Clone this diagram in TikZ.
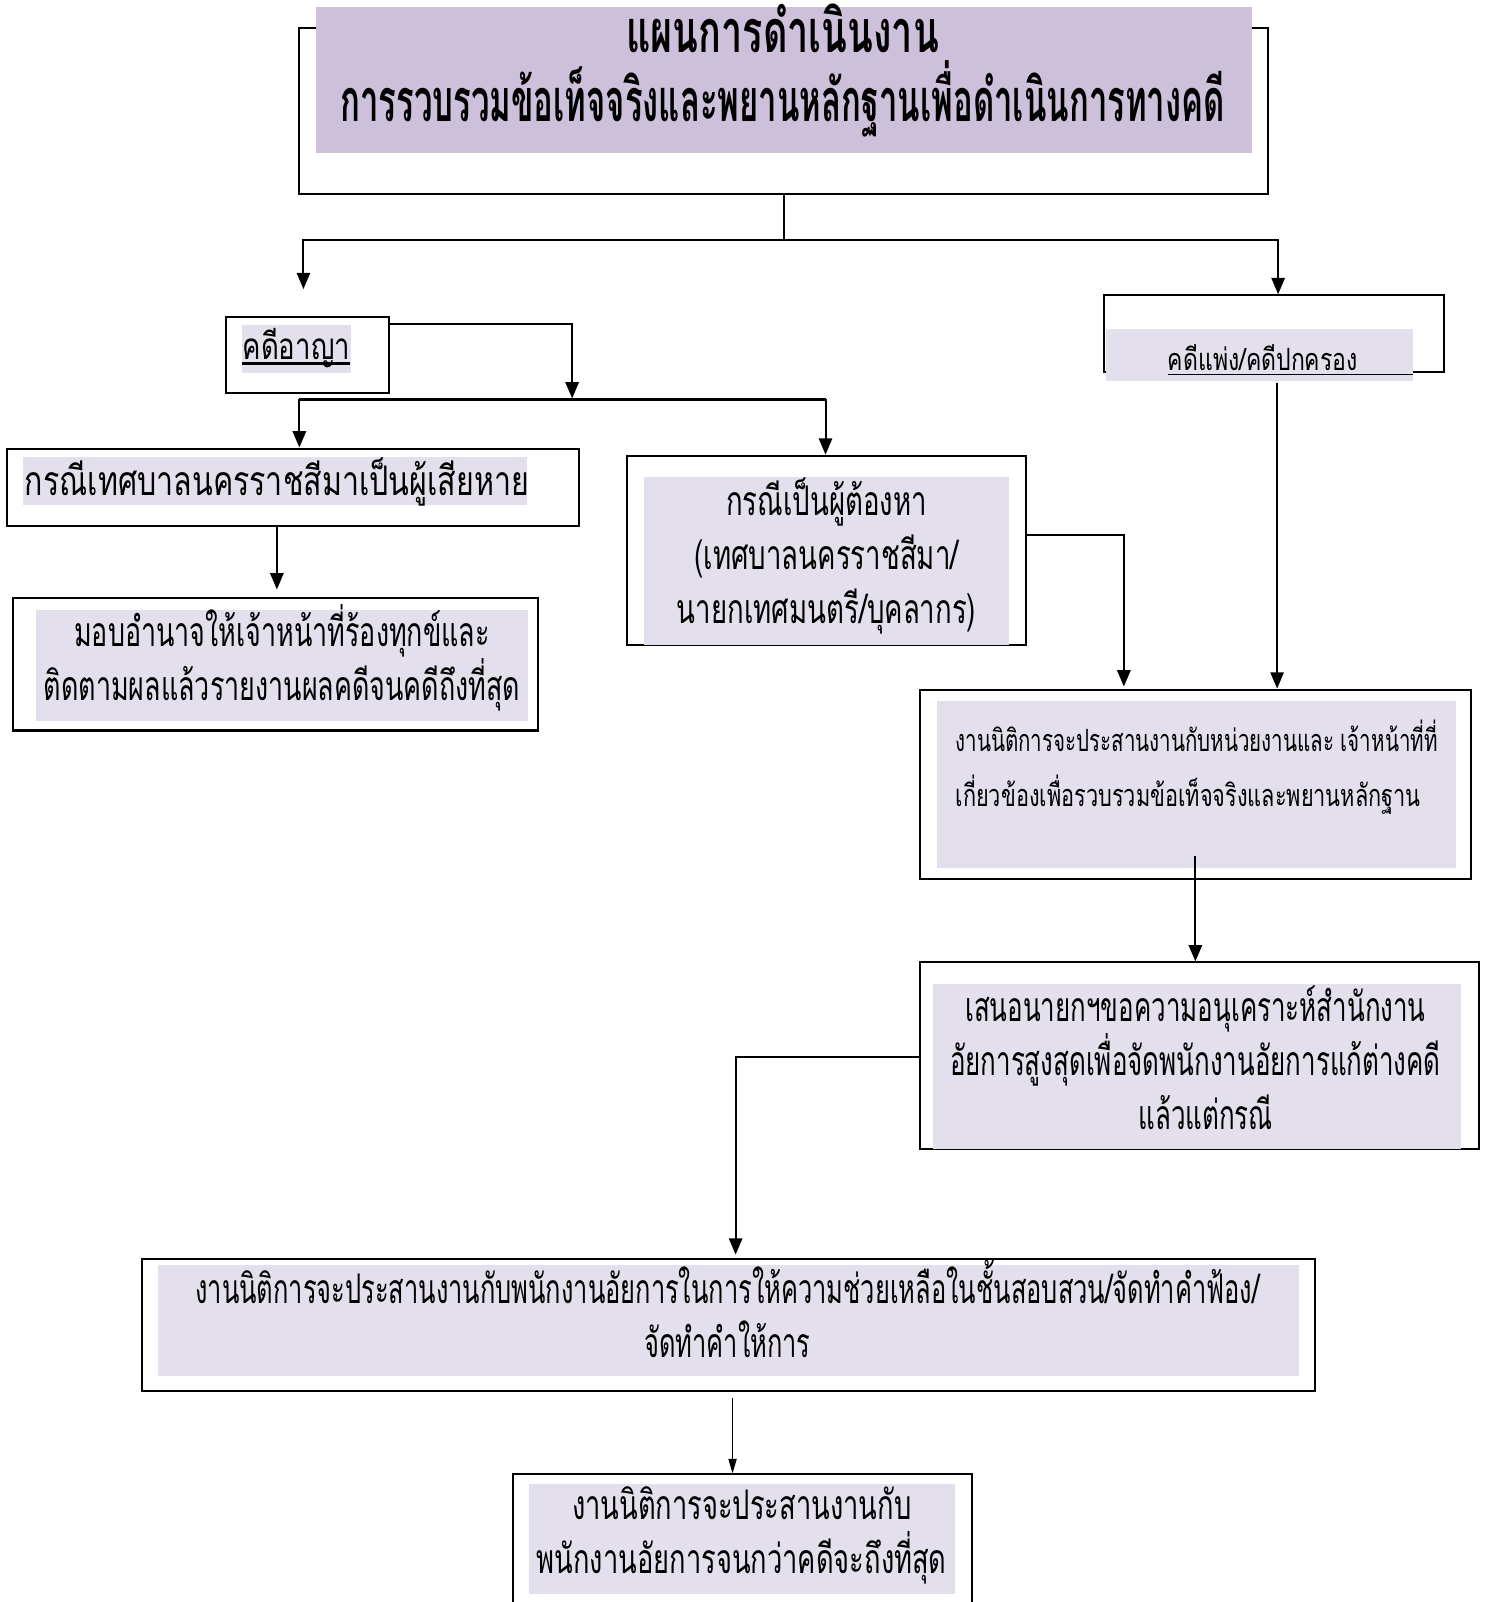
\documentclass[tikz,border=0pt]{standalone}
\usepackage{fontspec}
\usepackage{graphicx}
\usetikzlibrary{arrows.meta,calc}
\newfontfamily\thai[Script=Thai,FakeStretch=0.75]{Loma}
\newcommand{\hsq}[2]{\scalebox{#1}[1]{#2}}
\definecolor{titlefill}{RGB}{204,192,218}
\definecolor{boxfill}{RGB}{228,223,236}
\tikzset{
  x=0.5pt,y=-0.5pt,
  outerbox/.style={draw=black,line width=1pt,inner sep=0pt,fill=white},
  fillbox/.style={fill=boxfill,inner sep=0pt},
  txt/.style={inner sep=0pt,font=\thai\fontsize{20}{26.5}\selectfont,align=center},
  smalltxt/.style={inner sep=0pt,font=\thai\fontsize{15}{26.5}\selectfont,align=left},
  conn/.style={line width=1pt},
  arr/.style={line width=1pt,-{Triangle[width=6.5pt,length=8pt]}},
  thinarr/.style={line width=0.5pt,-{Triangle[width=4pt,length=7pt]}},
}
\begin{document}
\begin{tikzpicture}
\path[use as bounding box,clip] (0,0) rectangle (1458,1568);
% title
\node[outerbox,minimum width=474pt,minimum height=81.5pt] (title) at (767,108.5) {};
\node[fillbox,fill=titlefill,minimum width=458pt,minimum height=71.5pt] (titlef) at (767,78.5) {};
\node[txt,font=\thai\bfseries\fontsize{29}{33.5}\selectfont] (titlet) at (766,69) {\hsq{0.85}{แผนการดำเนินงาน}\\\hsq{0.74}{การรวบรวมข้อเท็จจริงและพยานหลักฐานเพื่อดำเนินการทางคดี}};
% criminal
\node[outerbox,minimum width=80pt,minimum height=37.5pt] (crim) at (301,347.5) {};
\node[fillbox,minimum width=53.5pt,minimum height=23.5pt] (crimf) at (290.5,341.5) {};
\node[txt,font=\thai\fontsize{18}{22}\selectfont] (crimt) at (290,341) {คดีอาญา};
\draw[line width=1.5pt] ([yshift=-2pt]crimt.base west) -- ([yshift=-2pt]crimt.base east);
% civil
\node[outerbox,minimum width=166pt,minimum height=37.5pt] (civil) at (1247,326.5) {};
\node[fillbox,minimum width=150pt,minimum height=25.5pt] (civilf) at (1233,347.5) {};
\node[txt,font=\thai\fontsize{15}{20}\selectfont] (civilt) at (1236,350) {คดีแพ่ง/คดีปกครอง};
\draw[line width=0.6pt] ([yshift=-2pt]civilt.base west) -- ([yshift=-2pt]civilt.base west -| civilf.east);
% victim
\node[outerbox,minimum width=280pt,minimum height=38pt] (vict) at (287,477) {};
\node[fillbox,minimum width=246.5pt,minimum height=23.5pt] (victf) at (269.5,470.5) {};
\node[txt] (victt) at (271,472) {\hsq{0.99}{กรณีเทศบาลนครราชสีมาเป็นผู้เสียหาย}};
% power of attorney
\node[outerbox,minimum width=257pt,minimum height=65pt] (poa) at (270,650) {};
\node[fillbox,minimum width=241pt,minimum height=54.5pt] (poaf) at (276,651.5) {};
\node[txt] (poat) at (276,644) {\hsq{0.877}{มอบอำนาจให้เจ้าหน้าที่ร้องทุกข์และ}\\\hsq{0.877}{ติดตามผลแล้วรายงานผลคดีจนคดีถึงที่สุด}};
% suspect
\node[outerbox,minimum width=195pt,minimum height=92.5pt] (susp) at (809,538.5) {};
\node[fillbox,minimum width=179pt,minimum height=82pt] (suspf) at (809,549) {};
\node[txt] (suspt) at (809,544) {\hsq{0.9}{กรณีเป็นผู้ต้องหา}\\\hsq{0.9}{(เทศบาลนครราชสีมา/}\\\hsq{0.9}{นายกเทศมนตรี/บุคลากร)}};
% legal 1
\node[outerbox,minimum width=270pt,minimum height=92.5pt] (legA) at (1170,767.5) {};
\node[fillbox,minimum width=254pt,minimum height=82pt] (legAf) at (1171,768) {};
\node[smalltxt,anchor=west] (legAt) at (935,751) {\hsq{0.892}{งานนิติการจะประสานงานกับหน่วยงานและ เจ้าหน้าที่ที่}\\\hsq{0.945}{เกี่ยวข้องเพื่อรวบรวมข้อเท็จจริงและพยานหลักฐาน}};
% proposal
\node[outerbox,minimum width=274pt,minimum height=91.5pt] (prop) at (1174,1033.5) {};
\node[fillbox,minimum width=258.5pt,minimum height=81pt] (propf) at (1171.5,1044) {};
\node[txt] (propt) at (1170,1035) {\hsq{0.846}{เสนอนายกฯขอความอนุเคราะห์สำนักงาน}\\\hsq{0.846}{อัยการสูงสุดเพื่อจัดพนักงานอัยการแก้ต่างคดี}\\\hspace*{10pt}\hsq{0.846}{แล้วแต่กรณี}};
% legal 2
\node[outerbox,minimum width=574pt,minimum height=64.5pt] (legB) at (713,1296.5) {};
\node[fillbox,minimum width=558pt,minimum height=54.5pt] (legBf) at (713,1292.5) {};
\node[txt] (legBt) at (712,1281) {\hsq{0.83}{งานนิติการจะประสานงานกับพนักงานอัยการในการให้ความช่วยเหลือในชั้นสอบสวน/จัดทำคำฟ้อง/}\\\hsq{0.83}{จัดทำคำให้การ}};
% legal 3
\node[outerbox,minimum width=224.5pt,minimum height=68.5pt] (legC) at (726.5,1511.5) {};
\node[fillbox,minimum width=208.5pt,minimum height=54pt] (legCf) at (726.5,1506) {};
\node[txt] (legCt) at (726,1503) {\hsq{0.89}{งานนิติการจะประสานงานกับ}\\\hsq{0.89}{พนักงานอัยการจนกว่าคดีจะถึงที่สุด}};
% connectors
\coordinate (bar) at (767,235);
\coordinate (toCrim) at (297,283);
\draw[conn] (title.south) -- (bar);
\draw[arr] (bar) -| (toCrim);
\draw[arr] (bar) -| (civil.north -| 1251,0);
\coordinate (jA) at (560,390);
\coordinate (bL) at (293,391);
\coordinate (bR) at (808,391);
\draw[arr] ($(crim.north east)+(0,8)$) -| (jA);
\draw[conn] (bL) -- (bR);
\draw[arr] (bL) -- (bL |- vict.north);
\draw[arr] (bR) -- (bR |- susp.north);
\coordinate (toPoa) at (271,577);
\draw[arr] (vict.south -| toPoa) -- (toPoa);
\coordinate (sR) at (1100,672);
\draw[arr] ($(susp.east)+(0,-14.5)$) -| (sR);
\coordinate (cv) at (1250,375);
\draw[arr] (cv) -- (cv |- legA.north);
\coordinate (lA) at (1170,838);
\draw[arr] (lA) -- (lA |- prop.north);
\coordinate (pL) at (720,1228);
\draw[arr] ($(prop.west)+(0,1.5)$) -| (pL);
\coordinate (lB) at (717,1368);
\draw[thinarr] (lB) -- (lB |- legC.north);
\end{tikzpicture}
\end{document}
